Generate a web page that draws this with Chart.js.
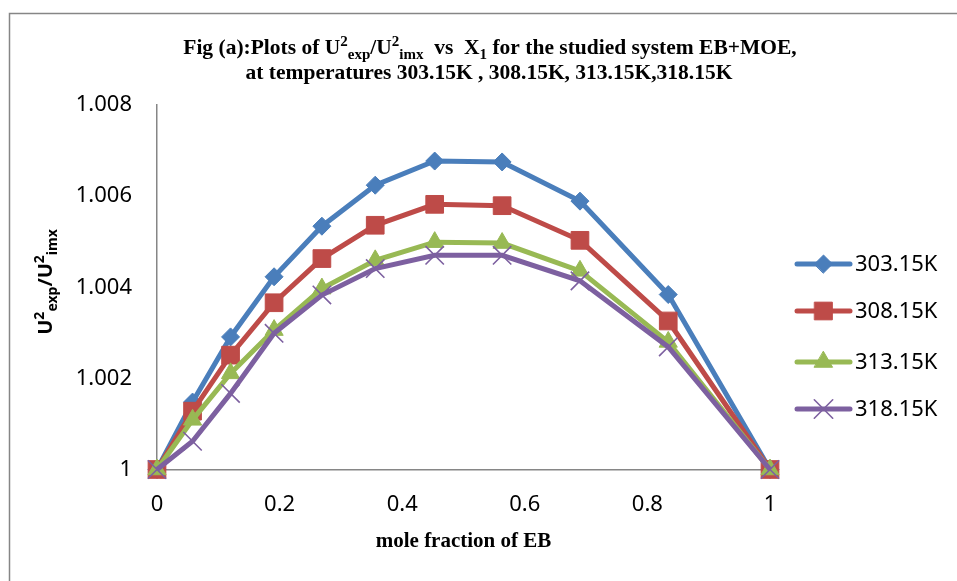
<!DOCTYPE html>
<html>
<head>
<meta charset="utf-8">
<title>U2exp/U2imx vs X1, EB+MOE</title>
<script src="https://cdn.jsdelivr.net/npm/chart.js@4.4.1/dist/chart.umd.min.js"></script>
<style>
    body { margin: 0; background: #fff; }
    canvas { display: block; }
</style>
</head>
<body>
<canvas id="chart" width="957" height="581"></canvas>
<script>
// -------------------------------------------------------------------------- Data
const moleFraction = [0, 0.058, 0.120, 0.191, 0.269, 0.356, 0.453, 0.563, 0.690, 0.834, 1]
const u303 = [1, 1.00148, 1.00291, 1.00423, 1.00534, 1.00624, 1.00677, 1.00675, 1.00589, 1.00384, 1]
const u308 = [1, 1.00128, 1.00251, 1.00366, 1.00463, 1.00536, 1.00582, 1.00579, 1.00503, 1.00326, 1]
const u313 = [1, 1.00109, 1.00211, 1.00306, 1.00397, 1.00459, 1.00499, 1.00497, 1.00436, 1.00280, 1]
const u318 = [1, 1.00062, 1.00167, 1.00299, 1.00383, 1.00441, 1.00470, 1.00470, 1.00414, 1.00269, 1]
const seriesNames = ['303.15K', '308.15K', '313.15K', '318.15K']

const xTicks = [0, 0.2, 0.4, 0.6, 0.8, 1]
const xTickLabels = ['0', '0.2', '0.4', '0.6', '0.8', '1']
const yTicks = [1, 1.002, 1.004, 1.006, 1.008]
const yTickLabels = ['1', '1.002', '1.004', '1.006', '1.008']

// -------------------------------------------------------------------------- Colours
let blue = '74, 126, 187'
let red = '190, 75, 72'
let green = '152, 185, 84'
let purple = '125, 96, 160'
let axisGrey = '#868686'

const titleLine1 = [
    { t: 'Fig (a):Plots of U' }, { t: '2', s: 'sup' }, { t: 'exp', s: 'sub' },
    { t: '/U' }, { t: '2', s: 'sup' }, { t: 'imx', s: 'sub' },
    { t: '  vs  X' }, { t: '1', s: 'sub' }, { t: ' for the studied system EB+MOE,' }
]
const titleLine2 = [{ t: 'at temperatures 303.15K , 308.15K, 313.15K,318.15K' }]
const yTitle = [
    { t: 'U' }, { t: '2', s: 'sup' }, { t: 'exp', s: 'sub' },
    { t: '/U' }, { t: '2', s: 'sup' }, { t: 'imx', s: 'sub' }
]

// -------------------------------------------------------------------------- Helpers
const toPoints = values => values.map((v, i) => ({ x: moleFraction[i], y: v }))

const richText = (ctx, parts, x, y, size, family, weight, subScale) => {
    const fontFor = p => weight + ' ' + (p.s ? Math.round(size * subScale) : size) + 'px ' + family
    let total = 0
    parts.forEach(p => {
        ctx.font = fontFor(p)
        p.w = ctx.measureText(p.t).width
        total += p.w
    })
    let cx = x - total / 2
    ctx.textAlign = 'left'
    ctx.textBaseline = 'alphabetic'
    parts.forEach(p => {
        ctx.font = fontFor(p)
        let dy = p.s === 'sup' ? -size * 0.38 : (p.s === 'sub' ? size * 0.24 : 0)
        ctx.fillText(p.t, cx, y + dy)
        cx += p.w
    })
}

const serif = '"Liberation Serif", "Times New Roman", serif'
const sans = '"Noto Sans", sans-serif'

const seriesStyle = [
    { color: blue, style: 'rectRot', radius: 9, border: 1 },
    { color: red, style: 'rect', radius: 12.5, border: 1 },
    { color: green, style: 'triangle', radius: 10.5, border: 1 },
    { color: purple, style: 'crossRot', radius: 13, border: 1.6 }
]
const seriesValues = [u303, u308, u313, u318]

const datasets = seriesValues.map((vals, i) => ({
    label: seriesNames[i],
    data: toPoints(vals),
    borderColor: 'rgb(' + seriesStyle[i].color + ')',
    backgroundColor: 'rgb(' + seriesStyle[i].color + ')',
    borderWidth: 5,
    pointStyle: seriesStyle[i].style,
    pointRadius: seriesStyle[i].radius,
    pointBorderWidth: seriesStyle[i].border,
    pointBackgroundColor: 'rgb(' + seriesStyle[i].color + ')',
    pointBorderColor: 'rgb(' + seriesStyle[i].color + ')',
    tension: 0,
    clip: 15,
    order: 4 - i
}))

// -------------------------------------------------------------------------- Decorations
const decorations = {
    id: 'decorations',
    beforeDraw(chart) {
        const ctx = chart.ctx
        ctx.save()
        ctx.fillStyle = '#fff'
        ctx.fillRect(0, 0, chart.width, chart.height)
        ctx.strokeStyle = axisGrey
        ctx.lineWidth = 1.5
        ctx.beginPath()
        ctx.moveTo(9.5, chart.height)
        ctx.lineTo(9.5, 13.5)
        ctx.lineTo(chart.width, 13.5)
        ctx.stroke()
        ctx.restore()
    },
    afterDraw(chart) {
        const ctx = chart.ctx
        ctx.save()
        ctx.fillStyle = '#000'

        // chart title
        richText(ctx, titleLine1, 490, 54, 21.5, serif, 'bold', 0.7)
        richText(ctx, titleLine2, 489, 79, 21.5, serif, 'bold', 0.7)

        // x axis title
        richText(ctx, [{ t: 'mole fraction of EB' }], 463.5, 547, 21, serif, 'bold', 0.7)

        // y axis title
        ctx.save()
        ctx.translate(52, 282)
        ctx.rotate(-Math.PI / 2)
        richText(ctx, yTitle, 0, 0, 20, sans, 'bold', 0.68)
        ctx.restore()

        // legend
        const legendY = [264, 311, 362, 409]
        seriesStyle.forEach((s, i) => {
            const y = legendY[i]
            ctx.strokeStyle = 'rgb(' + s.color + ')'
            ctx.fillStyle = 'rgb(' + s.color + ')'
            ctx.lineWidth = 5
            ctx.lineCap = 'round'
            ctx.beginPath()
            ctx.moveTo(797, y)
            ctx.lineTo(850, y)
            ctx.stroke()
            ctx.lineWidth = s.border
            if (Chart.helpers && Chart.helpers.drawPoint) {
                Chart.helpers.drawPoint(ctx, { pointStyle: s.style, radius: s.radius, borderWidth: s.border, rotation: 0 }, 823.5, y)
            }
            ctx.fillStyle = '#000'
            ctx.font = '22px ' + sans
            ctx.textAlign = 'left'
            ctx.textBaseline = 'middle'
            ctx.fillText(seriesNames[i], 855, y + 1)
        })
        ctx.restore()
    }
}

// -------------------------------------------------------------------------- Chart Config
const config = {
    type: 'line',
    data: { datasets: datasets },
    options: {
        responsive: false,
        animation: false,
        layout: { padding: { left: 0, top: 105, right: 187, bottom: 0 } },
        plugins: {
            legend: { display: false },
            title: { display: false },
            tooltip: { enabled: false }
        },
        scales: {
            x: {
                type: 'linear',
                min: 0,
                max: 1,
                grid: { display: false, drawTicks: false },
                border: { display: true, color: axisGrey, width: 1.5 },
                afterBuildTicks: scale => { scale.ticks = xTicks.map(v => ({ value: v })) },
                afterFit: scale => { scale.height = 111.5 },
                ticks: {
                    padding: 22,
                    color: '#000',
                    font: { family: sans, size: 22 },
                    maxRotation: 0,
                    autoSkip: false,
                    callback: (v, i) => xTickLabels[i]
                }
            },
            y: {
                type: 'linear',
                min: 1,
                max: 1.008,
                grid: { display: false, drawTicks: false },
                border: { display: true, color: axisGrey, width: 1.5 },
                afterBuildTicks: scale => { scale.ticks = yTicks.map(v => ({ value: v })) },
                afterFit: scale => { scale.width = 157 },
                ticks: {
                    padding: 25,
                    color: '#000',
                    font: { family: sans, size: 22 },
                    autoSkip: false,
                    callback: (v, i) => yTickLabels[i]
                }
            }
        }
    },
    plugins: [decorations]
}

// -------------------------------------------------------------------------- Render Chart
let chart = new Chart(document.getElementById('chart'), config)
</script>
</body>
</html>
